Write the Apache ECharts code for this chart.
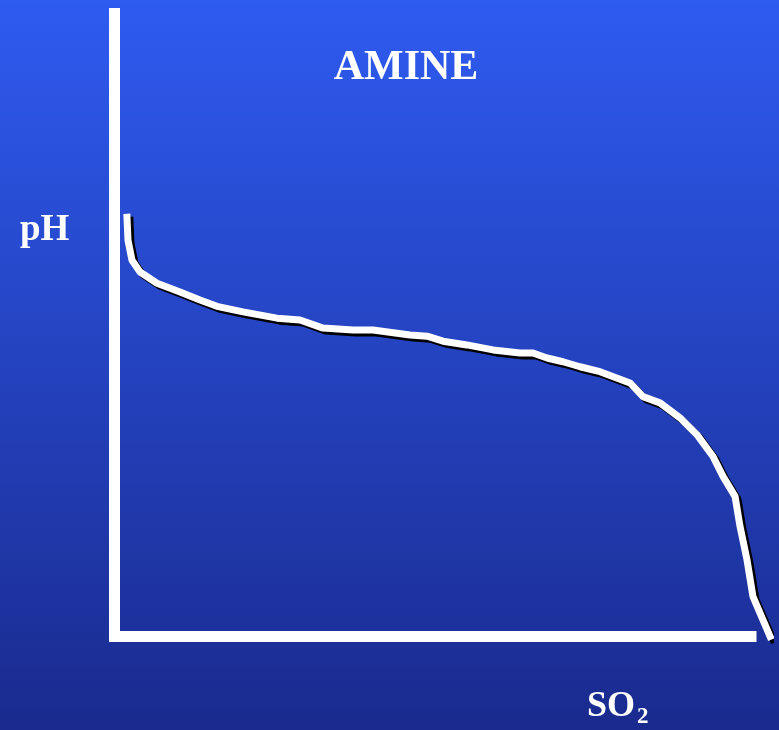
<!DOCTYPE html>
<html>
<head>
<meta charset="utf-8">
<script src="https://cdn.jsdelivr.net/npm/echarts@6/dist/echarts.min.js"></script>
<style>html,body{margin:0;padding:0;}#c{width:779px;height:730px;}</style>
</head>
<body>
<div id="c"></div>
<script>
// SO2 amount (relative units; axis runs 0-100)
const so2 = [1.96, 2.12, 2.75, 4.01, 6.68, 10.29, 13.43, 16.10, 20.19, 25.53, 29.14, 32.76, 37.47, 40.61, 46.43, 49.10, 51.61, 55.38, 59.47, 63.71, 65.75, 67.95, 70.46, 73.13, 76.28, 80.99, 83.03, 85.70, 88.84, 91.51, 94.03, 95.60, 97.49, 98.27, 99.37, 100.31, 102.99];
// pH (relative units; axis runs 0-100)
const ph = [67.3, 63.6, 60.4, 58.5, 56.7, 55.3, 54.0, 53.0, 52.1, 51.1, 50.8, 49.5, 49.2, 49.2, 48.4, 48.2, 47.4, 46.8, 46.0, 45.5, 45.5, 44.7, 44.1, 43.3, 42.5, 40.7, 38.5, 37.5, 35.1, 32.4, 28.9, 25.7, 22.5, 17.7, 12.3, 6.4, 0];
const axisEnd = [100, 100]; // x-axis length, y-axis length
const titleText = 'AMINE';
const yName = 'pH';
const xName = 'SO';
const xSub = '2';

const chart = echarts.init(document.getElementById('c'), null, {renderer: 'canvas'});
const serif = '"Liberation Serif", "Times New Roman", serif';
chart.setOption({
  backgroundColor: {
    type: 'linear', x: 0, y: 0, x2: 0, y2: 1,
    colorStops: [{offset: 0, color: '#2E5BF0'}, {offset: 1, color: '#1A2A8E'}]
  },
  animation: false,
  title: {
    text: titleText, left: 401, top: 63, textAlign: 'center', textVerticalAlign: 'middle',
    textStyle: {color: '#fff', fontFamily: serif, fontWeight: 'bold', fontSize: 42}
  },
  grid: {left: 114.5, top: 13.5, width: 655.6, height: 623},
  xAxis: {
    type: 'value', min: 0, max: 103, show: true,
    axisLine: {show: false}, axisTick: {show: false}, axisLabel: {show: false}, splitLine: {show: false}
  },
  yAxis: {
    type: 'value', min: 0, max: 100, show: true,
    axisLine: {show: false}, axisTick: {show: false}, axisLabel: {show: false}, splitLine: {show: false}
  },
  graphic: [
    {type: 'text', left: 20, top: 212, style: {text: yName, fill: '#fff', font: 'bold 37px ' + serif}},
    {type: 'text', left: 587, top: 689, style: {text: xName, fill: '#fff', font: 'bold 36px ' + serif}},
    {type: 'text', left: 637, top: 706, style: {text: xSub, fill: '#fff', font: 'bold 23px ' + serif}}
  ],
  series: [{
    type: 'line', symbol: 'none', clip: false, smooth: false, z: 3,
    data: so2.map((v, i) => [v, ph[i]]),
    lineStyle: {color: '#fff', width: 7, shadowColor: '#000', shadowOffsetX: 3, shadowOffsetY: 3, shadowBlur: 0, cap: 'square'},
    markLine: {
      silent: true, symbol: 'none', label: {show: false}, z: 2,
      lineStyle: {color: '#fff', width: 11, type: 'solid', cap: 'square'},
      data: [
        [{coord: [0, 0]}, {coord: [axisEnd[0], 0]}],
        [{coord: [0, 0]}, {coord: [0, axisEnd[1]]}]
      ]
    }
  }]
});
</script>
</body>
</html>
